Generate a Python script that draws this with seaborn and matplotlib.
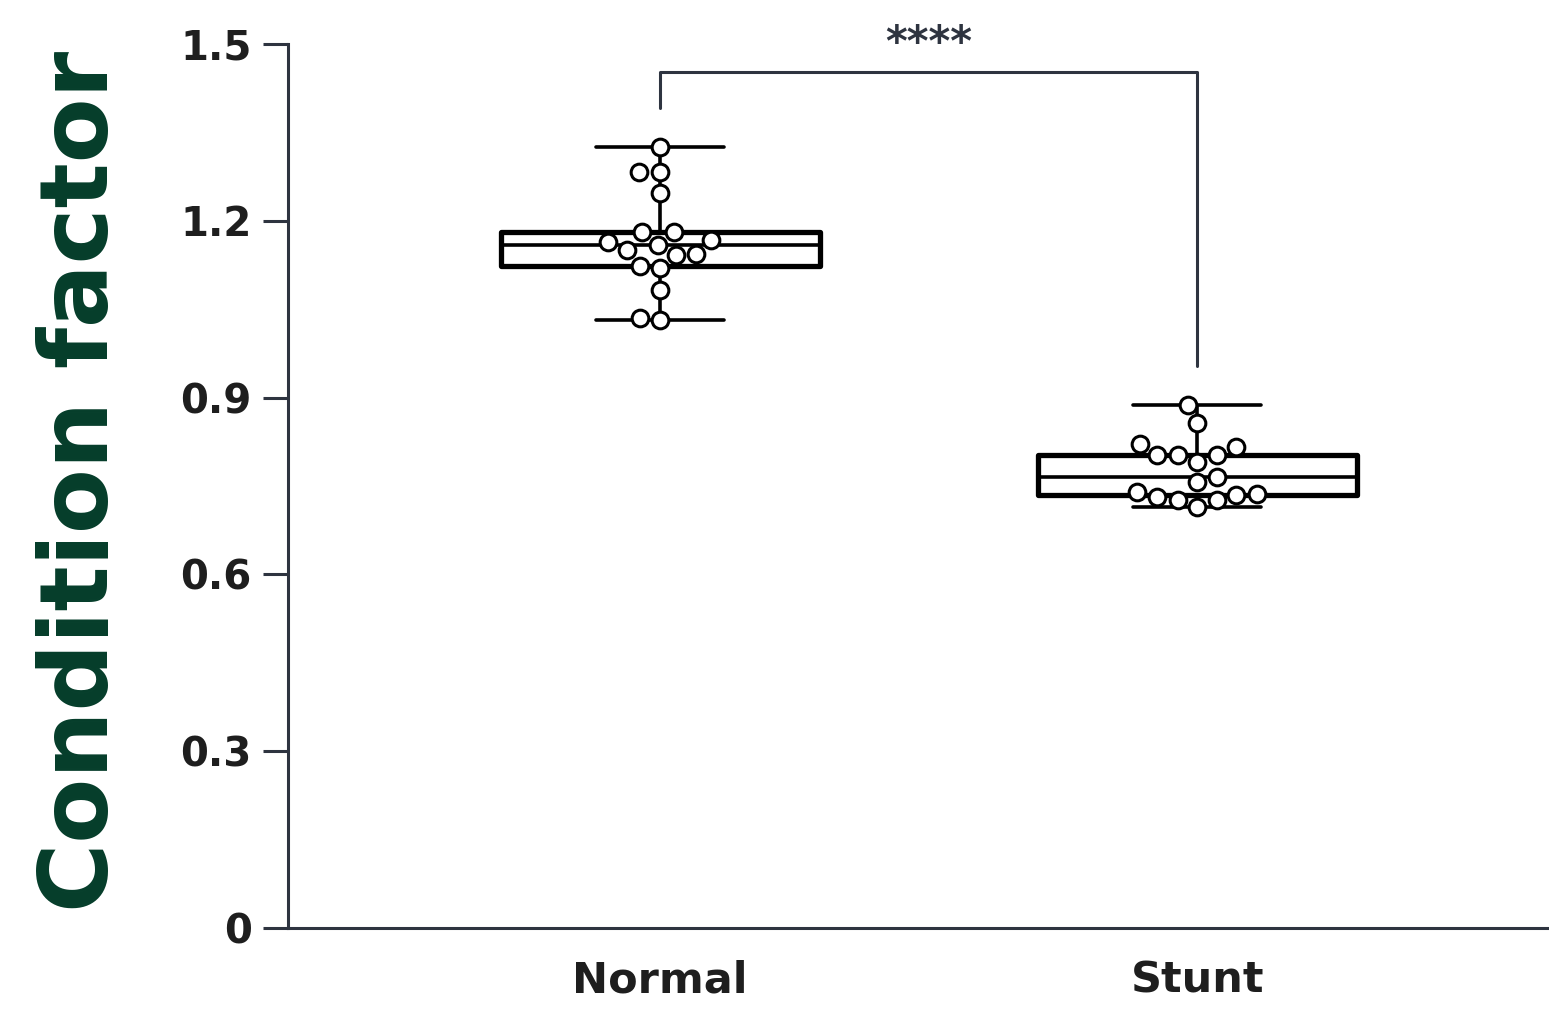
import pandas as pd
import matplotlib.pyplot as plt
import seaborn as sns

## values
groups = ['Normal', 'Stunt']
normal_vals = [1.325, 1.283, 1.283, 1.247, 1.181, 1.181, 1.164, 1.167, 1.159,
               1.150, 1.142, 1.144, 1.123, 1.120, 1.083, 1.032, 1.035]
stunt_vals = [0.887, 0.857, 0.816, 0.821, 0.803, 0.803, 0.803, 0.791, 0.765,
              0.757, 0.740, 0.731, 0.736, 0.735, 0.726, 0.726, 0.714]
y_ticks = [0, 0.3, 0.6, 0.9, 1.2, 1.5]
y_tick_labels = ['0', '0.3', '0.6', '0.9', '1.2', '1.5']
sig_label = '****'

df = pd.DataFrame({
    'group': ['Normal'] * len(normal_vals) + ['Stunt'] * len(stunt_vals),
    'value': normal_vals + stunt_vals,
})

sns.set_style('ticks')
plt.rcParams['font.family'] = ['DejaVu Sans']

axis_col = '#2e3440'
box_w = 0.594

fig = plt.figure(figsize=(15.49, 10.11), dpi=100)
ax = fig.add_axes([0.1859, 0.0821, 0.8141, 0.8744])

## box (min to max whiskers) and points on top
sns.boxplot(data=df, x='group', y='value', order=groups, whis=(0, 100),
            width=box_w, color='white', linecolor='black', linewidth=2.6,
            fliersize=0, ax=ax)
for p in ax.patches:
    p.set_linewidth(3.8)
    p.set_joinstyle('round')

## shorter caps like the original
for ln in ax.lines:
    xs = list(ln.get_xdata())
    ys = list(ln.get_ydata())
    if len(xs) == 2 and ys[0] == ys[1]:
        span = abs(xs[1] - xs[0])
        if span < box_w * 0.8:
            mid = (xs[0] + xs[1]) / 2
            half = box_w * 0.4 / 2
            ln.set_xdata([mid - half, mid + half])

sns.swarmplot(data=df, x='group', y='value', order=groups, color='white',
              edgecolor='black', linewidth=2.2, size=12, ax=ax, zorder=5)

ax.set_xlim(-0.693, 1.655)
ax.set_ylim(0, 1.5)
ax.set_yticks(y_ticks)
ax.set_yticklabels(y_tick_labels, fontsize=29, fontweight='bold', color='#1e1e1e')
ax.tick_params(axis='y', length=18, width=2.2, color=axis_col, pad=8)
ax.tick_params(axis='x', length=0, pad=23)
for lab in ax.get_xticklabels():
    lab.set_fontsize(31)
    lab.set_fontweight('bold')
    lab.set_color('#1e1e1e')
ax.set_xlabel('')
ax.set_ylabel('')
for side in ['top', 'right']:
    ax.spines[side].set_visible(False)
for side in ['left', 'bottom']:
    ax.spines[side].set_linewidth(2.2)
    ax.spines[side].set_color(axis_col)

## significance bracket
ax.plot([0, 0, 1, 1], [1.391, 1.452, 1.452, 0.954], color=axis_col, lw=2.2,
        clip_on=False)
ax.text(0.5, 1.479, sig_label, ha='center', va='baseline', fontsize=30,
        fontweight='bold', color=axis_col, clip_on=False)

## big y label
fig.text(0.053, 0.524, 'Condition factor', rotation=90, ha='center', va='center',
         fontsize=68, fontweight='bold', color='#053d2a')

fig.savefig('out.png', dpi=100)
